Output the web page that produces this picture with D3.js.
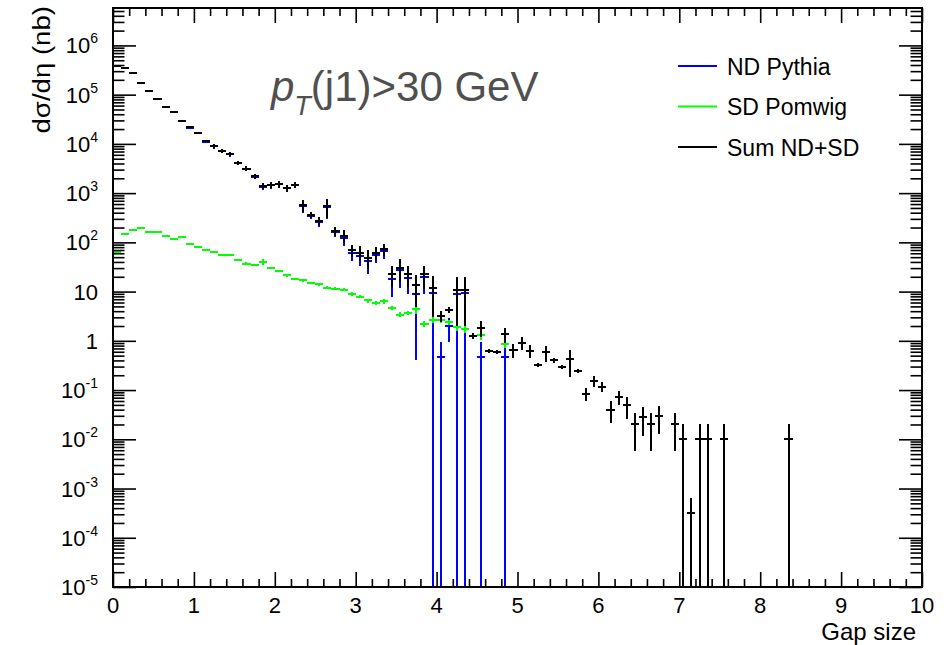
<!DOCTYPE html>
<html>
<head>
<meta charset="utf-8">
<script src="https://cdn.jsdelivr.net/npm/d3@7"></script>
<style>
  body { margin: 0; background: #fff; }
  svg { font-family: "Liberation Sans", Arial, Helvetica, sans-serif; }
</style>
</head>
<body>
<svg id="chart" width="950" height="645"></svg>
<script>
// gap size histograms, bins of 0.1 starting at 0
const binWidth = 0.1;

// Sum ND+SD (black)
const sumVal = [
  3.9e5, 3.5e5, 2.75e5, 1.72e5, 1.2e5, 8.1e4, 5.6e4, 4.4e4, 2.87e4, 2.16e4,
  1.66e4, 1.12e4, 9.0e3, 7.3e3, 6.15e3, 4.1e3, 3.14e3, 2.18e3, 1.39e3, 1.48e3,
  1.53e3, 1.27e3, 1.48e3, 576, 360, 275, 542, 172, 136, 70,
  62, 49, 62, 72.6, 23, 30.7, 22.9, 13.3, 22.4, 12.1,
  3.17, 4.3, 11, 11, 1.27, 1.83, 0.62, 0.59, 1.37, 0.65,
  0.92, 0.63, 0.32, 0.59, 0.40, 0.30, 0.42, 0.247, 0.085, 0.152,
  0.118, 0.040, 0.072, 0.049, 0.020, 0.029, 0.020, 0.030, 0, 0.020,
  0.010, 3.2e-4, 0.010, 0.010, 0, 0.010, 0, 0, 0, 0,
  0, 0, 0, 0.010
];
const sumErr = [
  1.2e4, 1.0e4, 8e3, 5e3, 3.6e3, 2.4e3, 1.7e3, 1.3e3, 860, 650,
  500, 340, 900, 700, 600, 400, 350, 250, 200, 220,
  230, 200, 220, 160, 45, 55, 230, 35, 40, 19.6,
  20.5, 19.6, 18.6, 19.6, 10.4, 15.4, 10.3, 8.5, 11.2, 9,
  0.8, 0.65, 9, 9, 0.19, 0.64, 0.05, 0.05, 0.48, 0.2,
  0.28, 0.19, 0.03, 0.21, 0.04, 0.03, 0.24, 0.025, 0.026, 0.038,
  0.026, 0.019, 0.022, 0.023, 0.0141, 0.0173, 0.0141, 0.0173, 0, 0.0141,
  0.01, 3.2e-4, 0.01, 0.01, 0, 0.01, 0, 0, 0, 0,
  0, 0, 0, 0.01
];

// ND Pythia (blue)
const ndVal = [
  3.9e5, 3.5e5, 2.75e5, 1.72e5, 1.2e5, 8.1e4, 5.59e4, 4.39e4, 2.86e4, 2.15e4,
  1.65e4, 1.11e4, 8940, 7240, 6090, 4055, 3100, 2145, 1350, 1450,
  1504, 1249, 1462, 559, 345, 261, 530, 161, 125, 61,
  54, 42.4, 56.2, 66.3, 18.3, 27.3, 19.2, 8.9, 20.2, 9.4,
  0.46, 1.96, 9.1, 9.26, 1.27, 0.46, 0.62, 0.59, 0.46, 0.65,
  0.92, 0.63, 0.32, 0.59, 0.40, 0.30, 0.42, 0.247, 0.085, 0.152,
  0.118, 0.040, 0.072, 0.049, 0.020, 0.029, 0.020, 0.030, 0, 0.020,
  0.010, 3.2e-4, 0.010, 0.010, 0, 0.010, 0, 0, 0, 0,
  0, 0, 0, 0.010
];
const ndErr = [
  1.2e4, 1.0e4, 8e3, 5e3, 3.6e3, 2.4e3, 1.7e3, 1.3e3, 860, 650,
  500, 340, 900, 700, 600, 400, 350, 250, 200, 220,
  230, 200, 220, 160, 45, 55, 230, 35, 40, 19.6,
  20.5, 19.6, 18.6, 19.6, 10.4, 15.4, 10.3, 8.5, 11.2, 9.6,
  0.47, 1.0, 9.2, 9.3, 0.19, 0.47, 0.05, 0.05, 0.47, 0.2,
  0.28, 0.19, 0.03, 0.21, 0.04, 0.03, 0.24, 0.025, 0.026, 0.038,
  0.026, 0.019, 0.022, 0.023, 0.0141, 0.0173, 0.0141, 0.0173, 0, 0.0141,
  0.01, 3.2e-4, 0.01, 0.01, 0, 0.01, 0, 0, 0, 0,
  0, 0, 0, 0.01
];

// SD Pomwig (green)
const sdVal = [
  64, 146, 175, 197, 163, 163, 137, 115, 129, 90.6,
  79.8, 70.3, 63, 56, 56, 44.7, 37.2, 34.5, 39.9, 29.9,
  26, 21.3, 18.3, 16.9, 15.1, 14.1, 12, 11.4, 11.0, 9.0,
  7.9, 6.6, 5.8, 6.3, 4.7, 3.4, 3.7, 4.4, 2.2, 2.7,
  2.7, 2.4, 1.87, 1.74, 0, 1.33, 0, 0, 0.88
];
const sdErr = [
  2, 4, 5, 5, 5, 5, 4, 4, 6, 3,
  3, 3, 2.5, 2.5, 2.5, 2, 2, 2, 6, 1.5,
  1.3, 1.1, 1, 1, 0.9, 0.9, 0.8, 0.8, 0.8, 0.7,
  0.6, 0.6, 0.5, 0.7, 0.5, 0.4, 0.4, 0.9, 0.3, 0.35,
  0.35, 0.3, 0.3, 0.3, 0, 0.27, 0, 0, 0.17
];

const legendItems = [
  { label: "ND Pythia", color: "#0000ff" },
  { label: "SD Pomwig", color: "#00ff00" },
  { label: "Sum ND+SD", color: "#000000" }
];

const svg = d3.select("#chart");
const frame = { left: 113, right: 922, top: 8, bottom: 587 };

const x = d3.scaleLinear().domain([0, 10]).range([frame.left, frame.right]);
const y = d3.scaleLog().domain([1e-5, Math.pow(10, 6.76)]).range([frame.bottom, frame.top]);

svg.append("defs").append("clipPath").attr("id", "plot")
  .append("rect")
  .attr("x", frame.left).attr("y", frame.top)
  .attr("width", frame.right - frame.left)
  .attr("height", frame.bottom - frame.top);

function drawHist(vals, errs, color) {
  const bins = vals.map((v, i) => ({ i, v, e: errs[i] })).filter(d => d.v > 0);
  const g = svg.append("g")
    .attr("clip-path", "url(#plot)")
    .attr("stroke", color)
    .attr("stroke-width", 2)
    .attr("shape-rendering", "crispEdges");

  g.selectAll("line.h")
    .data(bins)
    .join("line")
    .attr("class", "h")
    .attr("x1", d => x(d.i * binWidth))
    .attr("x2", d => x((d.i + 1) * binWidth))
    .attr("y1", d => y(d.v))
    .attr("y2", d => y(d.v));

  g.selectAll("line.v")
    .data(bins.filter(d => d.e > 0))
    .join("line")
    .attr("class", "v")
    .attr("x1", d => x((d.i + 0.5) * binWidth))
    .attr("x2", d => x((d.i + 0.5) * binWidth))
    .attr("y1", d => y(d.v + d.e))
    .attr("y2", d => (d.v - d.e > 0 ? y(d.v - d.e) : frame.bottom + 5));
}

drawHist(ndVal, ndErr, "#0000ff");
drawHist(sdVal, sdErr, "#00ff00");
drawHist(sumVal, sumErr, "#000000");

// ---- axes ----
const xMajor = d3.range(0, 11);
const xMinor = d3.range(0, 50).map(k => k * 0.2).filter(v => Math.abs(v - Math.round(v)) > 1e-6);

const yMajor = d3.range(-5, 7).map(n => Math.pow(10, n));
const yMinor = [];
for (let n = -5; n <= 6; n++) {
  for (let k = 2; k <= 9; k++) {
    const v = k * Math.pow(10, n);
    if (v < y.domain()[1]) yMinor.push(v);
  }
}

function tickGroup(axis, tx, ty) {
  const g = svg.append("g")
    .attr("transform", `translate(${tx},${ty})`)
    .call(axis);
  g.select(".domain").remove();
  g.selectAll(".tick line").attr("stroke", "#000").attr("stroke-width", 1.6);
  g.selectAll(".tick text").remove();
  return g;
}

// bottom & top
tickGroup(d3.axisTop(x).tickValues(xMajor).tickSize(15).tickFormat(""), 0, frame.bottom);
tickGroup(d3.axisTop(x).tickValues(xMinor).tickSize(8).tickFormat(""), 0, frame.bottom);
tickGroup(d3.axisBottom(x).tickValues(xMajor).tickSize(15).tickFormat(""), 0, frame.top);
tickGroup(d3.axisBottom(x).tickValues(xMinor).tickSize(8).tickFormat(""), 0, frame.top);
// left & right
tickGroup(d3.axisRight(y).tickValues(yMajor).tickSize(23).tickFormat(""), frame.left, 0);
tickGroup(d3.axisRight(y).tickValues(yMinor).tickSize(11.5).tickFormat(""), frame.left, 0);
tickGroup(d3.axisLeft(y).tickValues(yMajor).tickSize(23).tickFormat(""), frame.right, 0);
tickGroup(d3.axisLeft(y).tickValues(yMinor).tickSize(11.5).tickFormat(""), frame.right, 0);

svg.append("rect")
  .attr("x", frame.left).attr("y", frame.top)
  .attr("width", frame.right - frame.left)
  .attr("height", frame.bottom - frame.top)
  .attr("fill", "none")
  .attr("stroke", "#000")
  .attr("stroke-width", 2);

// x tick labels
svg.append("g").selectAll("text")
  .data(xMajor)
  .join("text")
  .attr("x", d => x(d))
  .attr("y", frame.bottom + 26)
  .attr("text-anchor", "middle")
  .attr("font-size", 22)
  .text(d => d);

// y tick labels
const yLab = svg.append("g").selectAll("text")
  .data(yMajor)
  .join("text")
  .attr("x", 98)
  .attr("y", d => y(d) + 8)
  .attr("text-anchor", "end")
  .attr("font-size", 22);

yLab.each(function(d) {
  const t = d3.select(this);
  const n = Math.round(Math.log10(d));
  if (n === 0) { t.text("1"); return; }
  if (n === 1) { t.text("10"); return; }
  t.append("tspan").text("10");
  t.append("tspan").attr("font-size", 14).attr("dy", -10).text(n);
});

// axis titles
svg.append("text")
  .attr("x", 916).attr("y", 640)
  .attr("text-anchor", "end")
  .attr("font-size", 24)
  .text("Gap size");

svg.append("text")
  .attr("transform", "translate(50,6) rotate(-90) scale(1.15,1)")
  .attr("text-anchor", "end")
  .attr("font-size", 24)
  .text("dσ/dη (nb)");

// label
const lab = svg.append("text")
  .attr("x", 271).attr("y", 101)
  .attr("font-size", 42)
  .attr("fill", "#505050");
lab.append("tspan").attr("font-style", "italic").text("p");
lab.append("tspan").attr("font-style", "italic").attr("font-size", 27).attr("dy", 14).text("T");
lab.append("tspan").attr("dy", -14).text("(j1)>30 GeV");

// legend
const leg = svg.append("g").selectAll("g")
  .data(legendItems)
  .join("g")
  .attr("transform", (d, i) => `translate(678,${66 + i * 40.5})`);
leg.append("line")
  .attr("x1", 0).attr("x2", 39)
  .attr("stroke", d => d.color)
  .attr("stroke-width", 2);
leg.append("text")
  .attr("x", 49).attr("y", 8.5)
  .attr("font-size", 23)
  .text(d => d.label);
</script>
</body>
</html>
